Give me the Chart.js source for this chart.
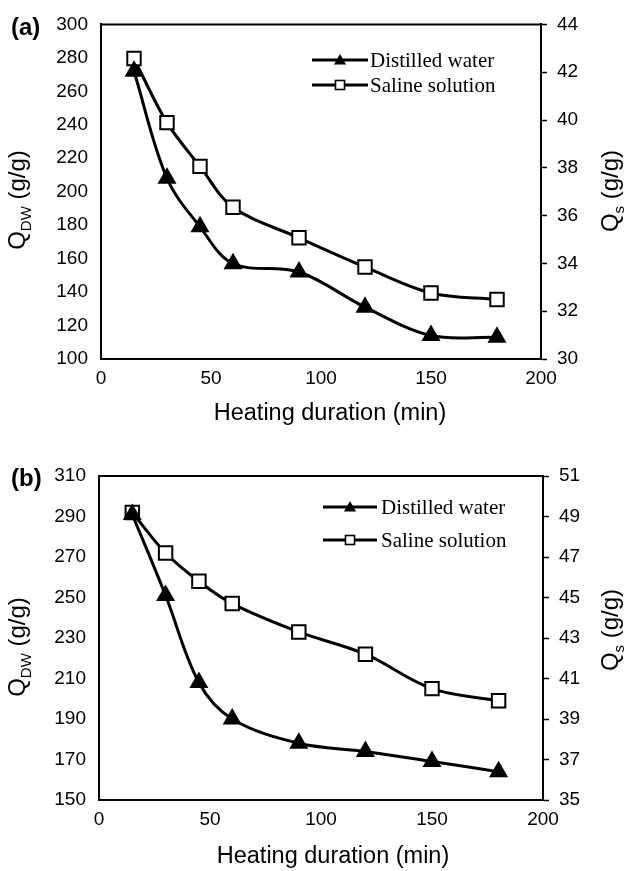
<!DOCTYPE html>
<html><head><meta charset="utf-8">
<script src="https://cdn.jsdelivr.net/npm/chart.js@4/dist/chart.umd.min.js"></script>
<style>
html,body{margin:0;padding:0;background:#fff;}
#wrap{position:relative;width:624px;height:871px;background:#fff;}
canvas{position:absolute;left:0;display:block;}
</style></head><body>
<div id="wrap">
<canvas id="ca" width="624" height="440" style="top:0"></canvas>
<canvas id="cb" width="624" height="431" style="top:440px"></canvas>
</div>
<script>
// ---- data ----
const heatingMinutes = [15, 30, 45, 60, 90, 120, 150, 180];
const distilledA = [272, 208, 179, 157, 152, 131, 114, 113];
const salineA = [42.57, 39.89, 38.06, 36.35, 35.07, 33.85, 32.76, 32.49];
const distilledB = [291, 251, 208, 190, 178, 174, 169, 164];
const salineB = [49.2, 47.2, 45.8, 44.7, 43.3, 42.2, 40.5, 39.9];
const xTicks = [0, 50, 100, 150, 200];
const leftTicksA = [100, 120, 140, 160, 180, 200, 220, 240, 260, 280, 300];
const rightTicksA = [30, 32, 34, 36, 38, 40, 42, 44];
const leftTicksB = [150, 170, 190, 210, 230, 250, 270, 290, 310];
const rightTicksB = [35, 37, 39, 41, 43, 45, 47, 49, 51];
const seriesLabels = ['Distilled water', 'Saline solution'];
const xTitle = 'Heating duration (min)';

const SANS = '"Liberation Sans", Arial, sans-serif';
const SERIF = '"Liberation Serif", "Times New Roman", serif';

function drawTri(ctx, x, y, r) {
  ctx.beginPath();
  for (let k = 0; k < 3; k++) {
    const ang = -Math.PI / 2 + k * 2 * Math.PI / 3;
    const px = x + r * Math.cos(ang), py = y + r * Math.sin(ang);
    if (k === 0) ctx.moveTo(px, py); else ctx.lineTo(px, py);
  }
  ctx.closePath();
  ctx.fillStyle = '#000';
  ctx.fill();
}
function drawSq(ctx, x, y, h) {
  ctx.fillStyle = '#fff';
  ctx.fillRect(x - h, y - h, 2 * h, 2 * h);
  ctx.lineWidth = 1.6;
  ctx.strokeStyle = '#000';
  ctx.strokeRect(x - h, y - h, 2 * h, 2 * h);
}
function drawRotTitle(ctx, sub, cx, cy) {
  ctx.save();
  ctx.translate(cx, cy);
  ctx.rotate(-Math.PI / 2);
  const big = '24px ' + SANS, small = '15px ' + SANS;
  ctx.font = big;
  const wQ = ctx.measureText('Q').width;
  const wRest = ctx.measureText(' (g/g)').width;
  ctx.font = small;
  const wS = ctx.measureText(sub).width;
  const total = wQ + wS + wRest;
  let x = -total / 2;
  ctx.fillStyle = '#000';
  ctx.textAlign = 'left';
  ctx.textBaseline = 'alphabetic';
  ctx.font = big;
  ctx.fillText('Q', x, 8);
  x += wQ;
  ctx.font = small;
  ctx.fillText(sub, x, 14);
  x += wS;
  ctx.font = big;
  ctx.fillText(' (g/g)', x, 8);
  ctx.restore();
}

const decor = {
  id: 'decor',
  afterDraw(chart, args, o) {
    const ctx = chart.ctx, a = chart.chartArea;
    ctx.save();
    ctx.strokeStyle = '#000';
    ctx.lineWidth = 2;
    ctx.beginPath();
    ctx.moveTo(a.left - 1, a.top);
    ctx.lineTo(a.right + 1, a.top);
    ctx.stroke();
    ctx.fillStyle = '#000';
    ctx.font = 'bold 24px ' + SANS;
    ctx.textAlign = 'left';
    ctx.textBaseline = 'middle';
    ctx.fillText(o.panel, o.panelX, o.panelY);
    ctx.font = '23.5px ' + SANS;
    ctx.textAlign = 'center';
    ctx.fillText(xTitle, o.xTitleX, o.xTitleY);
    drawRotTitle(ctx, 'DW', o.leftX, o.leftY);
    drawRotTitle(ctx, 's', o.rightX, o.rightY);
    // legend
    seriesLabels.forEach((lab, i) => {
      const y = o.legendY[i];
      ctx.strokeStyle = '#000';
      ctx.lineWidth = 3;
      ctx.beginPath();
      ctx.moveTo(o.legendX0, y);
      ctx.lineTo(o.legendX1, y);
      ctx.stroke();
      const mx = (o.legendX0 + o.legendX1) / 2;
      if (i === 0) drawTri(ctx, mx, y + 1, 7);
      else drawSq(ctx, mx, y, 4.5);
      ctx.fillStyle = '#000';
      ctx.font = '21px ' + SERIF;
      ctx.textAlign = 'left';
      ctx.textBaseline = 'middle';
      ctx.fillText(lab, o.legendTextX, y + 1);
    });
    ctx.restore();
  }
};

function makePanel(id, cfg) {
  const tickFont = { family: SANS, size: 19 };
  return new Chart(document.getElementById(id), {
    type: 'line',
    data: {
      datasets: [
        {
          label: seriesLabels[0],
          data: heatingMinutes.map((x, i) => ({ x: x, y: cfg.dw[i] })),
          yAxisID: 'y',
          borderColor: '#000', backgroundColor: '#000', borderWidth: 3,
          pointStyle: 'triangle', pointRadius: 11, pointBorderWidth: 0,
          pointBackgroundColor: '#000', tension: 0.35, fill: false
        },
        {
          label: seriesLabels[1],
          data: heatingMinutes.map((x, i) => ({ x: x, y: cfg.sal[i] })),
          yAxisID: 'y1',
          borderColor: '#000', backgroundColor: '#fff', borderWidth: 3,
          pointStyle: 'rect', pointRadius: 9.5, pointBorderWidth: 2,
          pointBackgroundColor: '#fff', pointBorderColor: '#000', tension: 0.35, fill: false
        }
      ]
    },
    options: {
      responsive: false,
      animation: false,
      devicePixelRatio: 1,
      layout: { padding: { top: cfg.top, left: 0, right: 0, bottom: 0 } },
      plugins: {
        legend: { display: false },
        tooltip: { enabled: false },
        decor: cfg.decor
      },
      scales: {
        x: {
          type: 'linear', min: 0, max: 200,
          afterBuildTicks: s => { s.ticks = xTicks.map(v => ({ value: v })); },
          grid: { display: false, drawTicks: false },
          border: { color: '#000', width: 2 },
          ticks: { color: '#000', font: tickFont, padding: 8, maxRotation: 0, autoSkip: false },
          afterFit: s => { s.height = cfg.bottomH; }
        },
        y: {
          position: 'left', min: cfg.leftTicks[0], max: cfg.leftTicks[cfg.leftTicks.length - 1],
          afterBuildTicks: s => { s.ticks = cfg.leftTicks.map(v => ({ value: v })); },
          grid: { display: false, drawTicks: false },
          border: { color: '#000', width: 2 },
          ticks: { color: '#000', font: tickFont, padding: 13, autoSkip: false },
          afterFit: s => { s.width = cfg.leftW; }
        },
        y1: {
          position: 'right', min: cfg.rightTicks[0], max: cfg.rightTicks[cfg.rightTicks.length - 1],
          afterBuildTicks: s => { s.ticks = cfg.rightTicks.map(v => ({ value: v })); },
          grid: { display: true, drawOnChartArea: false, drawTicks: true, tickLength: 6, tickColor: '#000', tickWidth: 1.5 },
          border: { color: '#000', width: 2 },
          ticks: { color: '#000', font: tickFont, padding: 10, autoSkip: false },
          afterFit: s => { s.width = cfg.rightW; }
        }
      }
    },
    plugins: [decor]
  });
}

makePanel('ca', {
  dw: distilledA, sal: salineA, leftTicks: leftTicksA, rightTicks: rightTicksA,
  top: 23, leftW: 101, rightW: 83, bottomH: 81,
  decor: {
    panel: '(a)', panelX: 11, panelY: 28,
    xTitleX: 330, xTitleY: 414,
    leftX: 17, leftY: 200, rightX: 610, rightY: 191,
    legendX0: 312, legendX1: 368, legendTextX: 370, legendY: [60, 85]
  }
});
makePanel('cb', {
  dw: distilledB, sal: salineB, leftTicks: leftTicksB, rightTicks: rightTicksB,
  top: 36, leftW: 99, rightW: 81, bottomH: 71,
  decor: {
    panel: '(b)', panelX: 11, panelY: 39,
    xTitleX: 333, xTitleY: 417,
    leftX: 17, leftY: 207, rightX: 610, rightY: 190,
    legendX0: 323, legendX1: 377, legendTextX: 381, legendY: [67, 100]
  }
});
</script>
</body></html>
